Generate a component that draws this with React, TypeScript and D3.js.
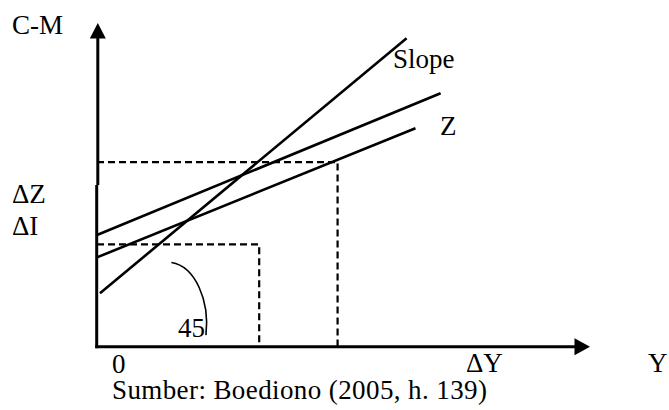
import React from "react";
import * as d3 from "d3";

// Diagram values (abstract units, 0..100 on each axis)
const slopeLine: [number, number][] = [[0.6, 16.5], [62.8, 95.3]];
const upperLine: [number, number][] = [[0, 34.5], [69.7, 78.3]];
const zLine: [number, number][] = [[0, 27.6], [64.6, 67.5]];
const guideHigh = { x: 48.8, y: 57.0 };
const guideLow = { x: 32.9, y: 31.6 };

const axisLabels = { yTitle: "C-M", xTitle: "Y", origin: "0", deltaY: "ΔY", deltaZ: "ΔZ", deltaI: "ΔI" };
const curveLabels = { slope: "Slope", z: "Z", angle: "45" };
const sourceNote = "Sumber: Boediono (2005, h. 139)";

const W = 669;
const H = 410;
const FONT = "'Liberation Serif', 'Times New Roman', serif";

export default function App() {
  const x = d3.scaleLinear().domain([0, 100]).range([97, 590]);
  const y = d3.scaleLinear().domain([0, 100]).range([346.7, 23]);
  const line = d3
    .line<[number, number]>()
    .x((d) => x(d[0]))
    .y((d) => y(d[1]));

  const x0 = x(0);
  const y0 = y(0);
  const yTip = y(100);
  const xTip = x(100);

  const textStyle: React.CSSProperties = { fontFamily: FONT, fontSize: 27, fill: "#000" };

  return (
    <svg
      width={W}
      height={H}
      style={{ position: "fixed", left: 0, top: 0, background: "#fff" }}
    >
      {/* dashed guides */}
      <g stroke="#000" strokeWidth={2.2} strokeDasharray="7,4" fill="none">
        <path d={`M${x0},${y(guideHigh.y)}H${x(guideHigh.x)}V${y0}`} />
        <path d={`M${x0},${y(guideLow.y)}H${x(guideLow.x)}V${y0}`} />
      </g>

      {/* functions */}
      <g stroke="#000" strokeWidth={2.6} fill="none">
        <path d={line(slopeLine) ?? ""} />
        <path d={line(upperLine) ?? ""} />
        <path d={line(zLine) ?? ""} />
      </g>

      {/* angle arc */}
      <path
        d={`M${x(15.1)},${y(26)} C${x(19.9)},${y(24.8)} ${x(22.9)},${y(14.3)} ${x(22.1)},${y(3.6)}`}
        stroke="#000"
        strokeWidth={1.6}
        fill="none"
      />

      {/* axes */}
      <g stroke="#000" strokeWidth={3} fill="none">
        <line x1={x0 + 0.8} y1={yTip + 14} x2={x0 + 0.8} y2={185} />
        <line x1={x0 - 0.3} y1={185} x2={x0 - 0.3} y2={y0 + 1.5} />
        <line x1={x0 - 1.8} y1={y0} x2={xTip - 14} y2={y0} />
      </g>
      <path
        d={`M${x0 + 0.8},${yTip} L${x0 + 8.8},${yTip + 15.5} L${x0 - 7.2},${yTip + 15.5} Z`}
        fill="#000"
      />
      <path
        d={`M${xTip},${y0} L${xTip - 15.5},${y0 - 8.5} L${xTip - 15.5},${y0 + 8.5} Z`}
        fill="#000"
      />

      {/* labels */}
      <text x={12} y={34} style={textStyle}>{axisLabels.yTitle}</text>
      <text x={12} y={203} style={textStyle}>{axisLabels.deltaZ}</text>
      <text x={12} y={235} style={textStyle}>{axisLabels.deltaI}</text>
      <text x={393} y={68} style={textStyle}>{curveLabels.slope}</text>
      <text x={440} y={135} style={textStyle}>{curveLabels.z}</text>
      <text x={178} y={337} style={textStyle}>{curveLabels.angle}</text>
      <text x={112} y={373} style={textStyle}>{axisLabels.origin}</text>
      <text x={466} y={372} style={textStyle}>{axisLabels.deltaY}</text>
      <text x={648} y={372} style={textStyle}>{axisLabels.xTitle}</text>
      <text x={112} y={399} style={{ ...textStyle, letterSpacing: 0.4 }}>{sourceNote}</text>
    </svg>
  );
}
